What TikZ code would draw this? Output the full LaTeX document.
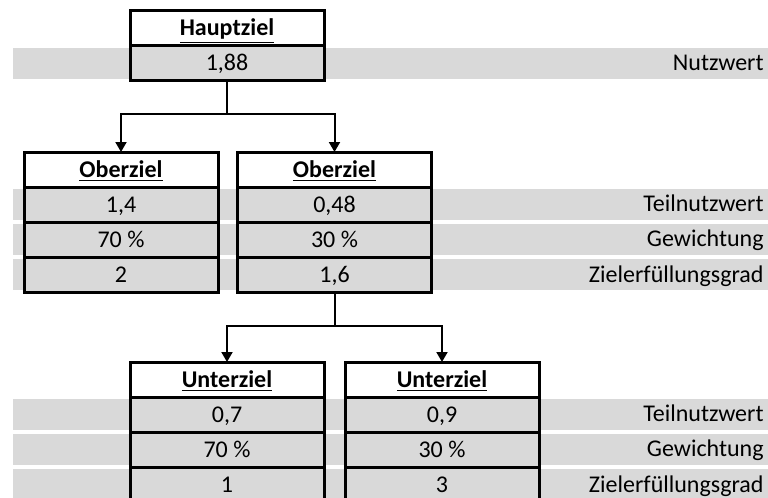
\documentclass[tikz,border=0pt]{standalone}
\usepackage{fontspec}
\setmainfont{Carlito}
\usepackage{xcolor}
\usepackage{tikz}
\usetikzlibrary{arrows.meta, positioning}
\definecolor{bandgray}{RGB}{217,217,217}

\begin{document}
\begin{tikzpicture}[
    x=0.5pt, y=-0.5pt,
    node distance=0pt,
    head/.style={rectangle, draw=black, line width=1.5pt, fill=white,
        minimum width=97pt, minimum height=17.5pt, inner sep=0pt, outer sep=0pt,
        text height=7.7pt, text depth=0pt,
        font=\fontsize{12}{14}\selectfont\bfseries},
    cell/.style={head, fill=bandgray, font=\fontsize{12}{14}\selectfont},
    band/.style={rectangle, fill=bandgray, minimum width=377.5pt,
        minimum height=15.5pt, inner sep=0pt, anchor=west},
    lbl/.style={anchor=base east, inner sep=0pt, font=\fontsize{12}{14}\selectfont},
    link/.style={line width=1pt},
    arr/.style={link, -{Triangle[length=5pt, width=5.5pt]}}
]
\useasboundingbox (0,0) rectangle (768,498);

% grey bands with their labels
\node[band] (b1) at (13,63) {};
\node[band] (b2) at (13,204.5) {};
\node[band] (b3) at (13,239.5) {};
\node[band] (b4) at (13,274.5) {};
\node[band] (b5) at (13,414.5) {};
\node[band] (b6) at (13,449.5) {};
\node[band] (b7) at (13,484.5) {};
\node[lbl] (l1) at (764,70.5) {Nutzwert};
\node[lbl] (l2) at (764,212) {Teilnutzwert};
\node[lbl] (l3) at (764,247) {Gewichtung};
\node[lbl] (l4) at (764,282) {Zielerfüllungsgrad};
\node[lbl] (l5) at (764,422) {Teilnutzwert};
\node[lbl] (l6) at (764,457) {Gewichtung};
\node[lbl] (l7) at (764,492) {Zielerfüllungsgrad};

% Hauptziel
\node[head] (hh) at (227,28) {\underline{Hauptziel}};
\node[cell, below=of hh] (hv) {1,88};

% Oberziele
\node[head] (o1h) at (121,169.5) {\underline{Oberziel}};
\node[cell, below=of o1h] (o1a) {1,4};
\node[cell, below=of o1a] (o1b) {70 \%};
\node[cell, below=of o1b] (o1c) {2};

\node[head] (o2h) at (334.5,169.5) {\underline{Oberziel}};
\node[cell, below=of o2h] (o2a) {0,48};
\node[cell, below=of o2a] (o2b) {30 \%};
\node[cell, below=of o2b] (o2c) {1,6};

% Unterziele
\node[head] (u1h) at (227,379.5) {\underline{Unterziel}};
\node[cell, below=of u1h] (u1a) {0,7};
\node[cell, below=of u1a] (u1b) {70 \%};
\node[cell, below=of u1b] (u1c) {1};

\node[head] (u2h) at (442,379.5) {\underline{Unterziel}};
\node[cell, below=of u2h] (u2a) {0,9};
\node[cell, below=of u2a] (u2b) {30 \%};
\node[cell, below=of u2b] (u2c) {3};

% connectors
\coordinate (j1) at (227,114);
\draw[link] (hv.south) -- (j1);
\draw[arr] (j1) -| (o1h.north);
\draw[arr] (j1) -| (o2h.north);

\coordinate (j2) at (334.5,326);
\draw[link] (o2c.south) -- (j2);
\draw[arr] (j2) -| (u1h.north);
\draw[arr] (j2) -| (u2h.north);
\end{tikzpicture}
\end{document}
